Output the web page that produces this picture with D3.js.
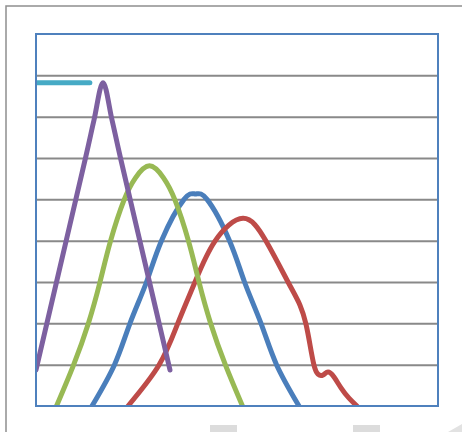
<!DOCTYPE html>
<html>
<head>
<meta charset="utf-8">
<script src="https://cdn.jsdelivr.net/npm/d3@7"></script>
<style>
  html, body { margin: 0; padding: 0; background: #ffffff; }
  svg { display: block; }
</style>
</head>
<body>
<svg id="chart" width="462" height="432"></svg>
<script>
// ---- data ----
const gridTicks = [1, 2, 3, 4, 5, 6, 7, 8];

const blueX  = [13.93, 19.53, 23.38, 27.49, 31.22, 36.82, 39.68, 42.54, 48.13, 51.87, 55.97, 59.83, 65.42];
const blueY  = [0, 1, 2, 3, 4, 5, 5.13, 5, 4, 3, 2, 1, 0];

const redX   = [22.89, 30.60, 35.32, 39.55, 44.53, 51.49, 57.21, 62.69, 65.67, 67.16, 68.16, 69.15, 70.15, 71.39, 72.64, 74.13, 75.87, 77.86, 79.85];
const redY   = [0, 0.99, 2.01, 3.0, 3.99, 4.54, 3.99, 3.0, 2.44, 1.98, 1.48, 0.99, 0.77, 0.75, 0.82, 0.70, 0.44, 0.19, 0];

const greenX = [5.10, 9.33, 13.06, 15.92, 18.53, 21.89, 24.75, 28.23, 31.72, 34.58, 37.94, 40.55, 43.41, 47.14, 51.37];
const greenY = [0, 0.99, 2.01, 3.0, 3.99, 4.98, 5.52, 5.81, 5.52, 4.98, 3.99, 3.0, 2.01, 0.99, 0];

const purpleX = [0, 5.97, 12.19, 14.43, 16.67, 18.91, 21.14, 27.36, 33.33];
const purpleY = [0.87, 3.36, 5.95, 6.92, 7.82, 6.92, 5.95, 3.36, 0.87];

const cyanX = [0, 13.4];
const cyanY = [7.82, 7.82];

const seriesNames  = ["blue", "red", "green", "purple", "cyan"];
const seriesColors = ["#4a7ebb", "#be4b48", "#98b954", "#7d60a0", "#46aac5"];
const seriesXs = [blueX, redX, greenX, purpleX, cyanX];
const seriesYs = [blueY, redY, greenY, purpleY, cyanY];
const seriesCurves = [d3.curveNatural, d3.curveNatural, d3.curveNatural,
                      d3.curveCardinal.tension(0), d3.curveLinear];

// ---- layout ----
const svg = d3.select("#chart");
const W = 462, H = 432;
const plot = { left: 36, right: 438, top: 34, bottom: 406 };

const x = d3.scaleLinear().domain([0, 100]).range([plot.left, plot.right]);
const y = d3.scaleLinear().domain([0, 9]).range([plot.bottom, plot.top]);

svg.append("rect").attr("width", W).attr("height", H).attr("fill", "#ffffff");

// outer chart-area border (extends beyond the picture to the right and bottom)
svg.append("rect")
  .attr("x", 6).attr("y", 6)
  .attr("width", W + 20).attr("height", H + 20)
  .attr("fill", "none")
  .attr("stroke", "#8f8f8f")
  .attr("stroke-width", 1.5);

// faint shapes cut off at the bottom edge
svg.append("rect").attr("x", 210).attr("y", 425).attr("width", 27).attr("height", 10).attr("fill", "#dcdcdc");
svg.append("rect").attr("x", 353).attr("y", 425).attr("width", 27).attr("height", 10).attr("fill", "#dcdcdc");
svg.append("path").attr("d", "M448,432 L462,424 L462,432 Z").attr("fill", "#e2e2e2");

// gridlines
const yAxis = d3.axisLeft(y).tickValues(gridTicks).tickSize(-(plot.right - plot.left)).tickFormat("");
const gAxis = svg.append("g")
  .attr("transform", `translate(${plot.left},0)`)
  .call(yAxis);
gAxis.select(".domain").remove();
gAxis.selectAll(".tick line").attr("stroke", "#898989").attr("stroke-width", 2);

// clip to plot area
svg.append("defs").append("clipPath").attr("id", "plotClip")
  .append("rect")
  .attr("x", plot.left).attr("y", plot.top)
  .attr("width", plot.right - plot.left).attr("height", plot.bottom - plot.top);

const gLines = svg.append("g").attr("clip-path", "url(#plotClip)");
seriesNames.forEach((name, i) => {
  const pts = seriesXs[i].map((v, j) => [v, seriesYs[i][j]]);
  const line = d3.line()
    .x(d => x(d[0]))
    .y(d => y(d[1]))
    .curve(seriesCurves[i]);
  gLines.append("path")
    .datum(pts)
    .attr("class", "series " + name)
    .attr("d", line)
    .attr("fill", "none")
    .attr("stroke", seriesColors[i])
    .attr("stroke-width", 5)
    .attr("stroke-linecap", "round")
    .attr("stroke-linejoin", "round");
});

// plot-area border
svg.append("rect")
  .attr("x", plot.left).attr("y", plot.top)
  .attr("width", plot.right - plot.left).attr("height", plot.bottom - plot.top)
  .attr("fill", "none")
  .attr("stroke", "#4f81bd")
  .attr("stroke-width", 2);
</script>
</body>
</html>
